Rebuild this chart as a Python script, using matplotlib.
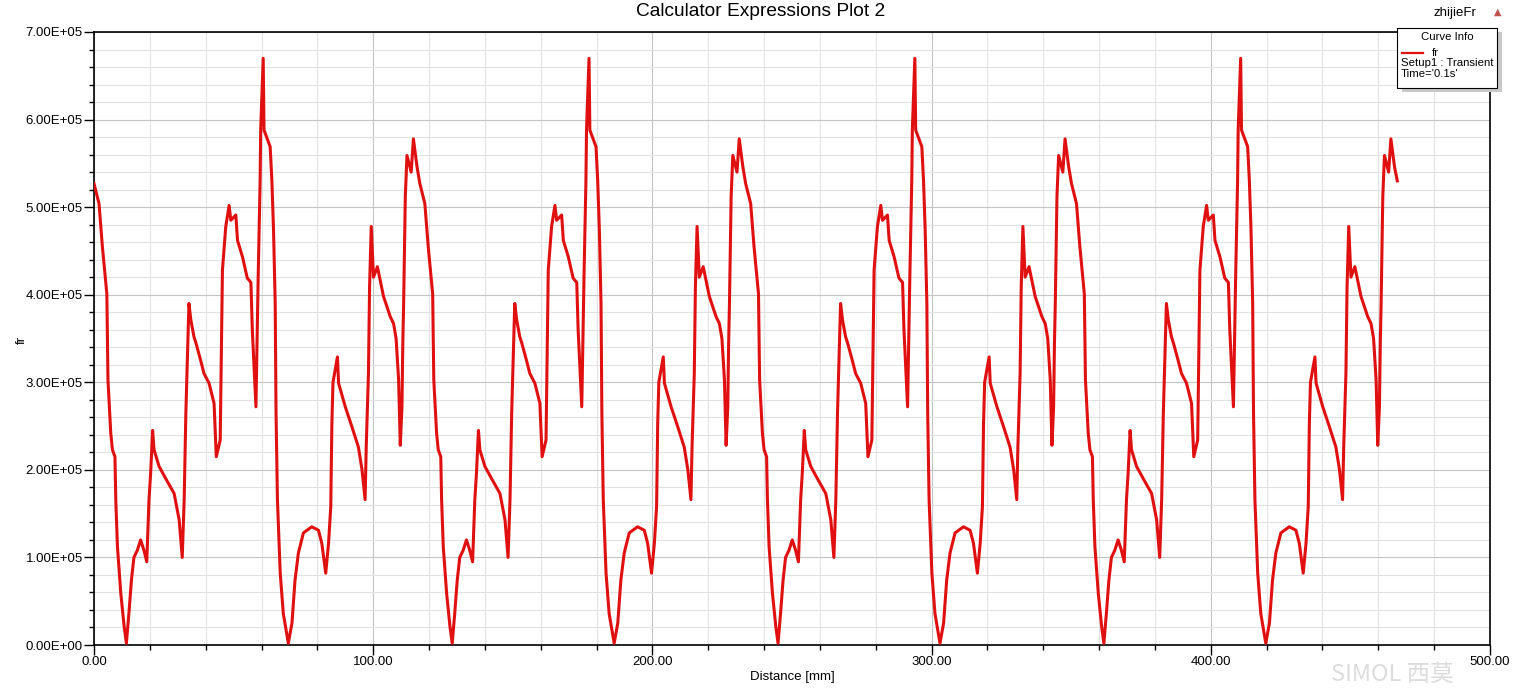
import matplotlib.pyplot as plt
from matplotlib.patches import Rectangle
from matplotlib.lines import Line2D
from matplotlib.ticker import MultipleLocator, FuncFormatter

plt.rcParams['font.family'] = ['Liberation Sans', 'DejaVu Sans']

# distance along the path [mm]
distance_mm = [
    0.0, 1.8, 3.0, 4.6, 5.0, 6.0, 6.6, 7.5, 7.8, 8.4, 9.6, 10.8, 11.6, 12.5, 13.4, 14.3, 15.5, 16.7, 17.9, 18.9,
    19.7, 20.3, 21.0, 21.5, 23.3, 25.7, 28.7, 30.5, 31.6, 32.3, 32.9, 34.0, 34.7, 35.8, 36.5, 38.2, 39.4, 41.2,
    43.0, 43.8, 45.2, 46.0, 47.2, 48.4, 49.0, 50.8, 51.4, 53.2, 54.9, 56.2, 56.7, 58.0, 58.8, 59.5, 59.7, 60.6,
    60.9, 63.1, 63.7, 64.3, 64.9, 65.2, 65.7, 66.7, 67.8, 69.6, 70.9, 72.0, 73.2, 75.0, 78.0, 80.4, 81.6, 83.0,
    84.0, 84.8, 85.2, 85.6, 87.2, 87.6, 90.0, 92.4, 94.7, 96.0, 97.1, 97.5, 98.3, 98.7, 99.3, 100.1, 101.5,
    103.7, 106.1, 107.3, 108.2, 109.1, 109.7, 110.3, 110.6, 110.9, 111.5, 112.1, 113.6, 114.4, 115.7,
    116.7, 118.5, 119.7, 121.3, 121.7, 122.7, 123.3, 124.2, 124.5, 125.1, 126.3, 127.5, 128.3, 129.2, 130.1,
    131.0, 132.2, 133.4, 134.6, 135.6, 136.4, 137.0, 137.7, 138.2, 140.0, 142.4, 145.4, 147.2, 148.3, 149.0,
    149.6, 150.7, 151.4, 152.5, 153.2, 154.9, 156.1, 157.9, 159.7, 160.5, 161.9, 162.7, 163.9, 165.1, 165.7,
    167.5, 168.1, 169.9, 171.6, 172.9, 173.4, 174.7, 175.5, 176.2, 176.4, 177.3, 177.6, 179.8, 180.4, 181.0,
    181.6, 181.9, 182.4, 183.4, 184.5, 186.3, 187.6, 188.7, 189.9, 191.7, 194.7, 197.1, 198.3, 199.7, 200.7,
    201.5, 201.9, 202.3, 203.9, 204.3, 206.7, 209.1, 211.4, 212.7, 213.8, 214.2, 215.0, 215.4, 216.0, 216.8,
    218.2, 220.4, 222.8, 224.0, 224.9, 225.8, 226.4, 227.0, 227.3, 227.6, 228.2, 228.8, 230.3, 231.1, 232.4,
    233.4, 235.2, 236.4, 238.0, 238.4, 239.4, 240.0, 240.9, 241.2, 241.8, 243.0, 244.2, 245.0, 245.9, 246.8,
    247.7, 248.9, 250.1, 251.3, 252.3, 253.1, 253.7, 254.4, 254.9, 256.7, 259.1, 262.1, 263.9, 265.0, 265.7,
    266.3, 267.4, 268.1, 269.2, 269.9, 271.6, 272.8, 274.6, 276.4, 277.2, 278.6, 279.4, 280.6, 281.8, 282.4,
    284.2, 284.8, 286.6, 288.3, 289.6, 290.1, 291.4, 292.2, 292.9, 293.1, 294.0, 294.3, 296.5, 297.1, 297.7,
    298.3, 298.6, 299.1, 300.1, 301.2, 303.0, 304.3, 305.4, 306.6, 308.4, 311.4, 313.8, 315.0, 316.4, 317.4,
    318.2, 318.6, 319.0, 320.6, 321.0, 323.4, 325.8, 328.1, 329.4, 330.5, 330.9, 331.7, 332.1, 332.7, 333.5,
    334.9, 337.1, 339.5, 340.7, 341.6, 342.5, 343.1, 343.7, 344.0, 344.3, 344.9, 345.5, 347.0, 347.8, 349.1,
    350.1, 351.9, 353.1, 354.7, 355.1, 356.1, 356.7, 357.6, 357.9, 358.5, 359.7, 360.9, 361.7, 362.6, 363.5,
    364.4, 365.6, 366.8, 368.0, 369.0, 369.8, 370.4, 371.1, 371.6, 373.4, 375.8, 378.8, 380.6, 381.7, 382.4,
    383.0, 384.1, 384.8, 385.9, 386.6, 388.3, 389.5, 391.3, 393.1, 393.9, 395.3, 396.1, 397.3, 398.5, 399.1,
    400.9, 401.5, 403.3, 405.0, 406.3, 406.8, 408.1, 408.9, 409.6, 409.8, 410.7, 411.0, 413.2, 413.8, 414.4,
    415.0, 415.3, 415.8, 416.8, 417.9, 419.7, 421.0, 422.1, 423.3, 425.1, 428.1, 430.5, 431.7, 433.1, 434.1,
    434.9, 435.3, 435.7, 437.3, 437.7, 440.1, 442.5, 444.8, 446.1, 447.2, 447.6, 448.4, 448.8, 449.4, 450.2,
    451.6, 453.8, 456.2, 457.4, 458.3, 459.2, 459.8, 460.4, 460.7, 461.0, 461.6, 462.2, 463.7, 464.5, 465.8,
    466.8,
]

# fr values in units of 1e5
fr_e5 = [
    5.27, 5.04, 4.55, 4.01, 3.03, 2.42, 2.23, 2.15, 1.66, 1.12, 0.59, 0.21, 0.02, 0.36, 0.74, 1.00, 1.08, 1.20, 1.08,
    0.95, 1.66, 1.97, 2.45, 2.23, 2.04, 1.90, 1.73, 1.43, 1.00, 1.66, 2.65, 3.90, 3.71, 3.52, 3.45, 3.25, 3.10, 2.99,
    2.76, 2.15, 2.34, 4.28, 4.78, 5.02, 4.85, 4.91, 4.62, 4.43, 4.19, 4.14, 3.60, 2.72, 4.20, 5.31, 5.88, 6.70, 5.88,
    5.69, 5.31, 4.74, 3.90, 2.65, 1.66, 0.82, 0.36, 0.02, 0.25, 0.74, 1.05, 1.28, 1.35, 1.31, 1.16, 0.82, 1.16, 1.58,
    2.53, 3.00, 3.29, 2.99, 2.72, 2.49, 2.26, 2.00, 1.66, 2.26, 3.10, 4.09, 4.78, 4.20, 4.32, 3.98, 3.75, 3.67, 3.50,
    3.03, 2.28, 2.72, 3.44, 3.90, 5.12, 5.59, 5.40, 5.78, 5.46,
    5.27, 5.04, 4.55, 4.01, 3.03, 2.42, 2.23, 2.15, 1.66, 1.12, 0.59, 0.21, 0.02, 0.36, 0.74, 1.00, 1.08, 1.20, 1.08,
    0.95, 1.66, 1.97, 2.45, 2.23, 2.04, 1.90, 1.73, 1.43, 1.00, 1.66, 2.65, 3.90, 3.71, 3.52, 3.45, 3.25, 3.10, 2.99,
    2.76, 2.15, 2.34, 4.28, 4.78, 5.02, 4.85, 4.91, 4.62, 4.43, 4.19, 4.14, 3.60, 2.72, 4.20, 5.31, 5.88, 6.70, 5.88,
    5.69, 5.31, 4.74, 3.90, 2.65, 1.66, 0.82, 0.36, 0.02, 0.25, 0.74, 1.05, 1.28, 1.35, 1.31, 1.16, 0.82, 1.16, 1.58,
    2.53, 3.00, 3.29, 2.99, 2.72, 2.49, 2.26, 2.00, 1.66, 2.26, 3.10, 4.09, 4.78, 4.20, 4.32, 3.98, 3.75, 3.67, 3.50,
    3.03, 2.28, 2.72, 3.44, 3.90, 5.12, 5.59, 5.40, 5.78, 5.46,
    5.27, 5.04, 4.55, 4.01, 3.03, 2.42, 2.23, 2.15, 1.66, 1.12, 0.59, 0.21, 0.02, 0.36, 0.74, 1.00, 1.08, 1.20, 1.08,
    0.95, 1.66, 1.97, 2.45, 2.23, 2.04, 1.90, 1.73, 1.43, 1.00, 1.66, 2.65, 3.90, 3.71, 3.52, 3.45, 3.25, 3.10, 2.99,
    2.76, 2.15, 2.34, 4.28, 4.78, 5.02, 4.85, 4.91, 4.62, 4.43, 4.19, 4.14, 3.60, 2.72, 4.20, 5.31, 5.88, 6.70, 5.88,
    5.69, 5.31, 4.74, 3.90, 2.65, 1.66, 0.82, 0.36, 0.02, 0.25, 0.74, 1.05, 1.28, 1.35, 1.31, 1.16, 0.82, 1.16, 1.58,
    2.53, 3.00, 3.29, 2.99, 2.72, 2.49, 2.26, 2.00, 1.66, 2.26, 3.10, 4.09, 4.78, 4.20, 4.32, 3.98, 3.75, 3.67, 3.50,
    3.03, 2.28, 2.72, 3.44, 3.90, 5.12, 5.59, 5.40, 5.78, 5.46,
    5.27, 5.04, 4.55, 4.01, 3.03, 2.42, 2.23, 2.15, 1.66, 1.12, 0.59, 0.21, 0.02, 0.36, 0.74, 1.00, 1.08, 1.20, 1.08,
    0.95, 1.66, 1.97, 2.45, 2.23, 2.04, 1.90, 1.73, 1.43, 1.00, 1.66, 2.65, 3.90, 3.71, 3.52, 3.45, 3.25, 3.10, 2.99,
    2.76, 2.15, 2.34, 4.28, 4.78, 5.02, 4.85, 4.91, 4.62, 4.43, 4.19, 4.14, 3.60, 2.72, 4.20, 5.31, 5.88, 6.70, 5.88,
    5.69, 5.31, 4.74, 3.90, 2.65, 1.66, 0.82, 0.36, 0.02, 0.25, 0.74, 1.05, 1.28, 1.35, 1.31, 1.16, 0.82, 1.16, 1.58,
    2.53, 3.00, 3.29, 2.99, 2.72, 2.49, 2.26, 2.00, 1.66, 2.26, 3.10, 4.09, 4.78, 4.20, 4.32, 3.98, 3.75, 3.67, 3.50,
    3.03, 2.28, 2.72, 3.44, 3.90, 5.12, 5.59, 5.40, 5.78, 5.46,
    5.30,
]
fr = [v * 1e5 for v in fr_e5]

W, H = 1521, 688
fig = plt.figure(figsize=(W / 100, H / 100), dpi=100)
ax = fig.add_axes([94 / W, 1 - 645 / H, (1490 - 94) / W, (645 - 32) / H])

ax.plot(distance_mm, fr, color='#e01010', lw=2.2, zorder=3)

ax.set_xlim(0, 500)
ax.set_ylim(0, 7e5)
ax.xaxis.set_major_locator(MultipleLocator(100))
ax.xaxis.set_minor_locator(MultipleLocator(20))
ax.yaxis.set_major_locator(MultipleLocator(1e5))
ax.yaxis.set_minor_locator(MultipleLocator(2e4))
ax.xaxis.set_major_formatter(FuncFormatter(lambda v, p: f'{v:.2f}'))
ax.yaxis.set_major_formatter(FuncFormatter(lambda v, p: f'{v:.2E}'))

ax.grid(which='major', color='#c4c4c4', lw=0.8)
ax.grid(which='minor', color='#e2e2e2', lw=0.8)
ax.set_axisbelow(True)
ax.tick_params(which='major', direction='out', length=7, width=1, labelsize=9.5, pad=1, top=False, right=False)
ax.tick_params(which='minor', direction='out', length=3.5, width=1, top=False, right=False)
for s in ax.spines.values():
    s.set_linewidth(1.2)

ax.set_xlabel('Distance [mm]', fontsize=9.5, labelpad=2)
fig.text(22 / W, 1 - 340 / H, 'fr', rotation=90, ha='center', va='center', fontsize=9.5)

fig.text(0.5, 1 - 12 / H, 'Calculator Expressions Plot 2', ha='center', va='center', fontsize=13.8)
fig.text(1455 / W, 1 - 13 / H, 'zhijieFr', ha='center', va='center', fontsize=9.5)
fig.text(1498 / W, 1 - 12 / H, '\u25b2', ha='center', va='center', fontsize=7, color='#c05050',
         family=['DejaVu Sans'])

# curve info box
fig.add_artist(Rectangle((1402 / W, 1 - 92 / H), 100 / W, 60 / H, transform=fig.transFigure,
                         facecolor='#c8c8c8', edgecolor='none', zorder=5))
fig.add_artist(Rectangle((1397 / W, 1 - 88 / H), 100 / W, 60 / H, transform=fig.transFigure,
                         facecolor='white', edgecolor='black', lw=0.8, zorder=6))
fig.text(1447 / W, 1 - 37 / H, 'Curve Info', ha='center', va='center', fontsize=8.2, zorder=7)
fig.add_artist(Line2D([1402 / W, 1423 / W], [1 - 53 / H, 1 - 53 / H], transform=fig.transFigure,
                      color='#e01010', lw=1.6, zorder=7))
fig.text(1432 / W, 1 - 53 / H, 'fr', ha='left', va='center', fontsize=8.2, zorder=7)
fig.text(1401 / W, 1 - 63 / H, 'Setup1 : Transient', ha='left', va='center', fontsize=8.2, zorder=7)
fig.text(1401 / W, 1 - 74 / H, "Time='0.1s'", ha='left', va='center', fontsize=8.2, zorder=7)

# watermark
fig.text(1392 / W, 1 - 674 / H, 'SIMOL 西莫', ha='center', va='center', fontsize=17, color='#dcdcdc',
         family=['Noto Sans CJK SC', 'DejaVu Sans'], zorder=0)

fig.savefig('out.png', dpi=100)
